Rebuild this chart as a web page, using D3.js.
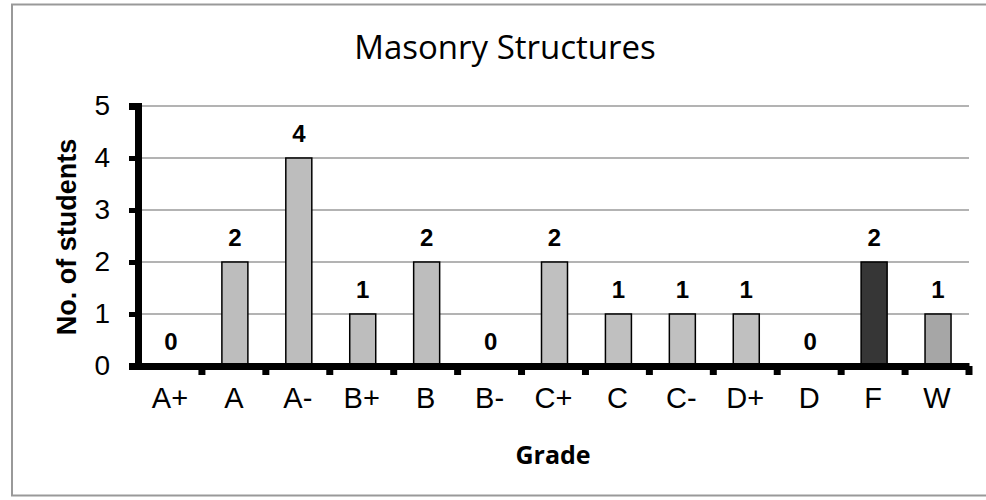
<!DOCTYPE html>
<html>
<head>
<meta charset="utf-8">
<script src="https://cdn.jsdelivr.net/npm/d3@7"></script>
<style>
  body { margin: 0; background: #fff; }
</style>
</head>
<body>
<svg width="986" height="500"></svg>
<script>
// data
var grades = ["A+", "A", "A-", "B+", "B", "B-", "C+", "C", "C-", "D+", "D", "F", "W"];
var counts = [0, 2, 4, 1, 2, 0, 2, 1, 1, 1, 0, 2, 1];
var barColors = ["#bfbfbf", "#bdbdbd", "#bdbdbd", "#bdbdbd", "#bdbdbd", "#bfbfbf", "#c0c0c0",
    "#c0c0c0", "#c0c0c0", "#c0c0c0", "#c0c0c0", "#363636", "#a6a6a6"];
var yTicks = [0, 1, 2, 3, 4, 5];

var svg = d3.select("svg"),
    width = +svg.attr("width"),
    height = +svg.attr("height");

var sans = "Liberation Sans, Arial, sans-serif";
var margin = {left: 138, right: 17, top: 106, bottom: 134};

// outer frame
svg.append("rect")
    .attr("x", 12).attr("y", 4.5)
    .attr("width", 990).attr("height", 491)
    .attr("fill", "none")
    .attr("stroke", "#999")
    .attr("stroke-width", 2);

var x = d3.scaleBand()
    .domain(grades)
    .range([margin.left, width - margin.right]);

var y = d3.scaleLinear()
    .domain([0, 5])
    .range([height - margin.bottom, margin.top]);

var barW = 26;

// gridlines
svg.append("g")
    .selectAll("line")
    .data(yTicks.filter(d => d > 0))
    .enter().append("line")
    .attr("x1", margin.left).attr("x2", width - margin.right)
    .attr("y1", d => y(d)).attr("y2", d => y(d))
    .attr("stroke", "#9a9a9a")
    .attr("stroke-width", 1.5);

// bars
svg.append("g")
    .selectAll("rect")
    .data(grades)
    .enter().append("rect")
    .attr("x", d => x(d) + (x.bandwidth() - barW) / 2 + 1)
    .attr("width", barW)
    .attr("y", (d, i) => y(counts[i]))
    .attr("height", (d, i) => y(0) - y(counts[i]))
    .attr("fill", (d, i) => barColors[i])
    .attr("stroke", "#000")
    .attr("stroke-width", 1.5);

// value labels
svg.append("g")
    .selectAll("text")
    .data(grades)
    .enter().append("text")
    .attr("x", d => x(d) + x.bandwidth() / 2 + 1)
    .attr("y", (d, i) => y(counts[i]) - 16)
    .attr("text-anchor", "middle")
    .attr("font-family", sans)
    .attr("font-weight", "bold")
    .attr("font-size", 24)
    .text((d, i) => counts[i]);

// y axis
var yAxis = svg.append("g")
    .attr("transform", "translate(" + margin.left + ",0)")
    .call(d3.axisLeft(y).tickValues(yTicks).tickSize(9).tickPadding(19).tickFormat(d3.format("d")));
yAxis.select(".domain").attr("stroke", "#000").attr("stroke-width", 7);
yAxis.selectAll(".tick line").attr("stroke", "#000").attr("stroke-width", 5);
yAxis.selectAll("text")
    .attr("font-family", sans)
    .attr("font-size", 28)
    .attr("fill", "#000");

// x axis
var xAxis = svg.append("g")
    .attr("transform", "translate(0," + y(0) + ")")
    .call(d3.axisBottom(x).tickSize(0).tickPadding(21));
xAxis.select(".domain").attr("stroke", "#000").attr("stroke-width", 7);
xAxis.selectAll("text")
    .attr("font-family", sans)
    .attr("font-size", 29)
    .attr("fill", "#000");

// x tick marks at category boundaries
var bounds = grades.slice(1).map(d => x(d)).concat([width - margin.right]);
svg.append("g")
    .selectAll("line")
    .data(bounds)
    .enter().append("line")
    .attr("x1", d => d).attr("x2", d => d)
    .attr("y1", y(0)).attr("y2", y(0) + 9)
    .attr("stroke", "#000")
    .attr("stroke-width", 7);

// titles
svg.append("text")
    .attr("x", 505).attr("y", 59)
    .attr("text-anchor", "middle")
    .attr("font-family", "Open Sans, sans-serif")
    .attr("font-size", 33)
    .text("Masonry Structures");

svg.append("text")
    .attr("x", 553).attr("y", 464)
    .attr("text-anchor", "middle")
    .attr("font-family", "Open Sans, sans-serif")
    .attr("font-weight", "bold")
    .attr("font-size", 25)
    .text("Grade");

svg.append("text")
    .attr("transform", "translate(76,237) rotate(-90)")
    .attr("text-anchor", "middle")
    .attr("font-family", sans)
    .attr("font-weight", "bold")
    .attr("font-size", 27)
    .text("No. of students");
</script>
</body>
</html>
